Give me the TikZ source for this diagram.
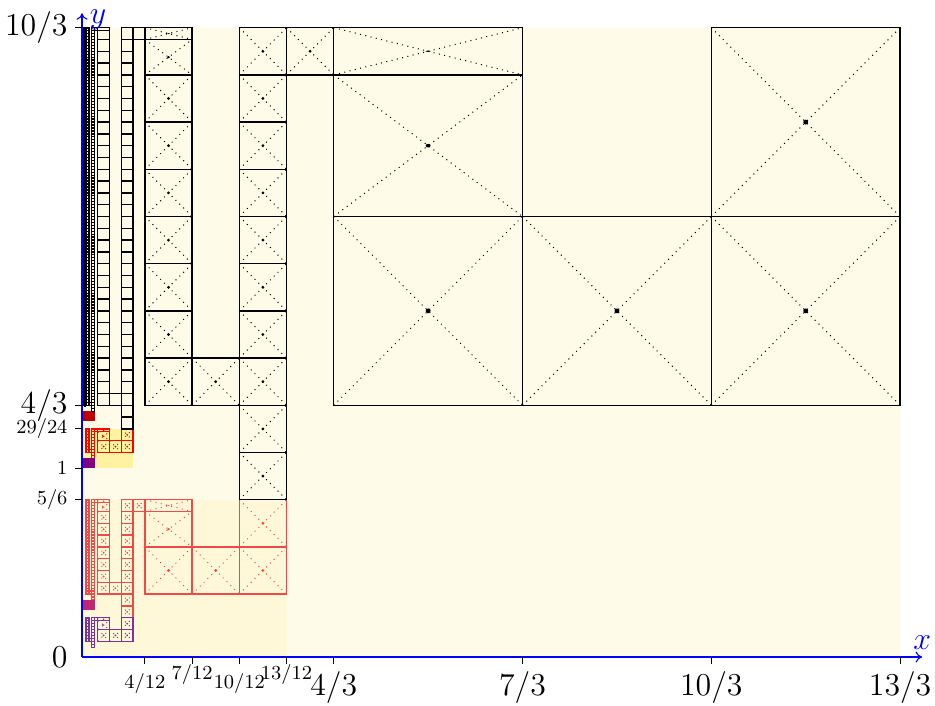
\documentclass[tikz,border=0pt]{standalone}
\usepackage{amsmath}
\usepackage{xcolor}
\usepackage{tikz}
\usetikzlibrary{arrows.meta}

\definecolor{cream}{RGB}{254,251,232}
\definecolor{creamA}{RGB}{254,247,216}
\definecolor{yellowB}{RGB}{255,242,160}
\definecolor{redA}{RGB}{242,72,72}
\definecolor{redB}{RGB}{255,0,0}
\definecolor{purpleA}{RGB}{130,48,160}
\definecolor{sumC}{RGB}{192,0,0}
\definecolor{sumB}{RGB}{190,40,110}
\definecolor{sumP}{RGB}{128,0,128}

% one cell: x, y, width, height, dot radius (0 = no marks), colour
\newcommand\tcell[6]{%
  \pgfmathsetmacro\cellX{#1+0.5*#3}%
  \pgfmathsetmacro\cellY{#2+0.5*#4}%
  \pgfmathsetmacro\cellXX{#1+#3}%
  \pgfmathsetmacro\cellYY{#2+#4}%
  \draw[cellline,draw=#6] (#1,#2) rectangle (\cellXX,\cellYY);
  \ifdim#5pt>0pt
    \draw[diag,draw=#6] (#1,#2) -- (\cellXX,\cellYY) (#1,\cellYY) -- (\cellXX,#2);
    \pgfmathsetmacro\cellR{#5*#4/#3}%
    \fill[fill=#6] (\cellX,\cellY) ellipse [x radius=#5pt, y radius=\cellR pt];
  \fi}

% a column of square cells: x, bottom, number, size, dot radius, colour
\newcommand\tcol[6]{%
  \pgfmathsetmacro\colXe{#1+#4}%
  \pgfmathsetmacro\colYe{#2+#3*#4}%
  \draw[cellline,draw=#6] (#1,#2) rectangle (\colXe,\colYe)
    \foreach \j in {1,...,#3} {({#1},{#2+\j*#4}) -- ({\colXe},{#2+\j*#4})};
  \ifdim#5pt>0pt
    \draw[diag,draw=#6] \foreach \j in {1,...,#3}
      {({#1},{#2+(\j-1)*#4}) -- ++(#4,#4) ({#1},{#2+\j*#4}) -- ++(#4,-#4)};
    \fill[fill=#6] \foreach \j in {1,...,#3}
      {({#1+0.5*#4},{#2+(\j-0.5)*#4}) circle [radius=#5pt]};
  \fi}

% one level of cells: size, lower end of right column, dot radius, colour
\newcommand\tlevel[4]{%
  \pgfmathsetmacro\ls{#1}%
  \pgfmathsetmacro\lxa{4*\ls/3}%
  \pgfmathsetmacro\lxb{7*\ls/3}%
  \pgfmathsetmacro\lxc{10*\ls/3}%
  \pgfmathsetmacro\lxd{13*\ls/3}%
  \pgfmathsetmacro\lbot{#2}%
  \pgfmathtruncatemacro\lnr{round((10/3-\lbot)/\ls)}%
  \pgfmathtruncatemacro\lnl{round(2/\ls)-1}%
  \tcol{\lxc}{\lbot}{\lnr}{\ls}{#3}{#4}%
  \tcol{\lxa}{4/3}{\lnl}{\ls}{#3}{#4}%
  \pgfmathsetmacro\ly{10/3-\ls}%
  \pgfmathsetmacro\lh{0.75*\ls}%
  \tcell{\lxa}{\ly}{\ls}{\lh}{#3}{#4}%
  \pgfmathsetmacro\ly{10/3-0.25*\ls}%
  \pgfmathsetmacro\lh{0.25*\ls}%
  \tcell{\lxa}{\ly}{\ls}{\lh}{#3}{#4}%
  \tcell{\lxb}{4/3}{\ls}{\ls}{#3}{#4}%
  \ifdim\ls pt<1pt
    \pgfmathsetmacro\ly{10/3-\ls}%
    \tcell{\lxd}{\ly}{\ls}{\ls}{#3}{#4}%
  \fi}

\begin{document}
\begin{tikzpicture}[x=3cm,y=3cm,
  cellline/.style={line width=0.6pt},
  diag/.style={dotted,line width=0.45pt},
  axis/.style={blue,-{To[length=3pt,width=5pt]},line width=0.5pt},
  tick/.style={black,line width=0.5pt},
  biglab/.style={font=\Large},
  smalllab/.style={font=\small}
]
\useasboundingbox (-0.4343,-0.2542) rectangle (4.518,3.480);

% shaded regions
\fill[cream]   (0,0) rectangle (13/3,10/3);
\fill[creamA]  (0,0) rectangle (13/12,5/6);
\fill[yellowB] (0,1) rectangle (13/48,29/24);

% copy at 1/4 and its copy at 1/16
\begin{scope}[scale=0.25]
  \tlevel{1}{4/3}{2.8}{redA}
  \tlevel{0.25}{5/6}{1.8}{redA}
  \tlevel{0.0625}{29/24}{0}{redA}
  \begin{scope}[scale=0.25]
    \tlevel{1}{4/3}{7.2}{purpleA}
    \tlevel{0.25}{5/6}{0}{purpleA}
  \end{scope}
\end{scope}

% copy at 1/16
\begin{scope}[shift={(0,1)},scale=0.0625]
  \tlevel{1}{4/3}{7.2}{redB}
  \tlevel{0.25}{5/6}{0}{redB}
\end{scope}

% copies at 1/64
\fill[sumC] (0,5/4) rectangle (13/192,5/4+10/192);
\fill[sumB] (0,1/4) rectangle (13/192,1/4+10/192);
\fill[sumP] (0,1)   rectangle (13/192,1+10/192);

% main cells
\tlevel{1}{4/3}{1.1}{black}
\tlevel{0.25}{5/6}{0.7}{black}
\tlevel{0.0625}{29/24}{0}{black}
\tlevel{0.015625}{1.302083}{0}{black}
\draw[cellline] (4/768,4/3) rectangle (7/768,10/3)
                (10/768,1.3255) rectangle (13/768,10/3);

% axes
\draw[axis] (0,0) -- (4.45,0) node[above,font=\Large] (lx) {$x$};
\draw[axis] (0,0) -- (0,3.41) node[right,font=\Large,yshift=-3pt] (ly) {$y$};

\foreach \n in {4,7,10,13}
  \draw[tick] (\n/3,0) -- (\n/3,-0.035) node[below,biglab] (bx\n) {$\n/3$};
\foreach \n/\sh in {4/-1,7/3,10/-1,13/3}
  \draw[tick] (\n/12,0) -- (\n/12,-0.035)
    node[below,smalllab,yshift=\sh pt] (sx\n) {$\n/12$};

\draw[tick] (0,10/3) -- (-0.035,10/3) node[left,biglab] (by10) {$10/3$};
\draw[tick] (0,4/3) -- (-0.035,4/3) node[left,biglab] (by4) {$4/3$};
\draw[tick] (0,29/24) -- (-0.035,29/24) node[left,smalllab] (sy29) {$29/24$};
\draw[tick] (0,1) -- (-0.035,1) node[left,smalllab] (sy1) {$1$};
\draw[tick] (0,5/6) -- (-0.035,5/6) node[left,smalllab] (sy5) {$5/6$};
\node[left,biglab] (by0) at (-0.035,0) {$0$};
\end{tikzpicture}
\end{document}
